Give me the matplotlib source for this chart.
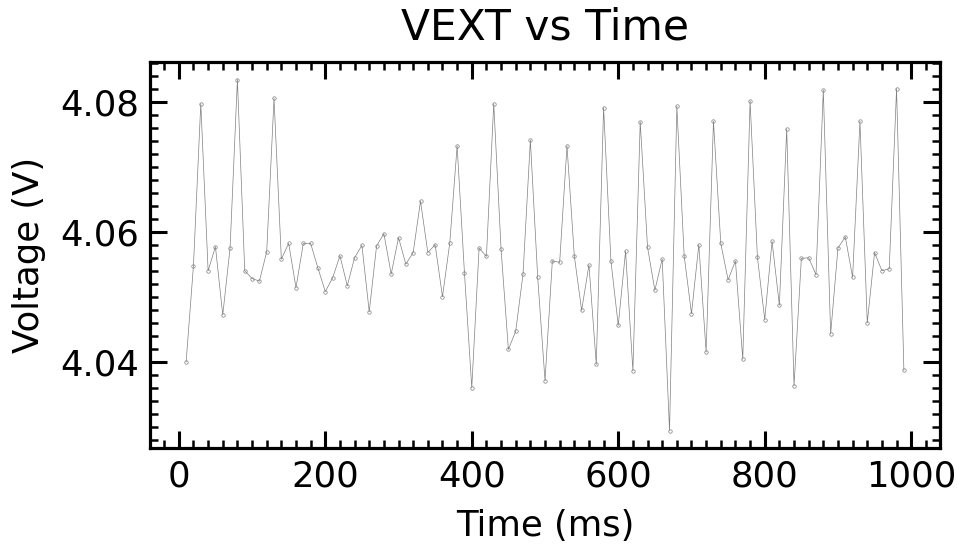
import matplotlib
matplotlib.use("Agg")
import matplotlib.pyplot as plt
from matplotlib.ticker import MultipleLocator

time_ms = list(range(10, 1000, 10))
voltage = [
    4.0400, 4.0548, 4.0797, 4.0540, 4.0577, 4.0472, 4.0575, 4.0834, 4.0540, 4.0528,
    4.0524, 4.0569, 4.0805, 4.0558, 4.0582, 4.0514, 4.0582, 4.0582, 4.0544, 4.0508,
    4.0529, 4.0563, 4.0517, 4.0560, 4.0579, 4.0477, 4.0578, 4.0597, 4.0535, 4.0591,
    4.0550, 4.0568, 4.0647, 4.0568, 4.0580, 4.0500, 4.0583, 4.0732, 4.0537, 4.0360,
    4.0575, 4.0562, 4.0797, 4.0573, 4.0419, 4.0447, 4.0535, 4.0741, 4.0530, 4.0371,
    4.0555, 4.0553, 4.0732, 4.0563, 4.0479, 4.0549, 4.0396, 4.0791, 4.0555, 4.0456,
    4.0570, 4.0386, 4.0769, 4.0576, 4.0510, 4.0558, 4.0294, 4.0793, 4.0563, 4.0474,
    4.0580, 4.0415, 4.0770, 4.0582, 4.0526, 4.0555, 4.0404, 4.0801, 4.0561, 4.0465,
    4.0585, 4.0487, 4.0758, 4.0363, 4.0559, 4.0560, 4.0534, 4.0818, 4.0443, 4.0575,
    4.0592, 4.0530, 4.0770, 4.0460, 4.0568, 4.0540, 4.0543, 4.0820, 4.0387,
]

title = "VEXT vs Time"
xlabel = "Time (ms)"
ylabel = "Voltage (V)"

plt.rcParams['font.family'] = ['DejaVu Sans']
fig = plt.figure(figsize=(9.57, 5.44), dpi=100)
ax = fig.add_axes([0.157, 0.176, 0.825, 0.710])

ax.plot(time_ms, voltage, color='gray', linewidth=0.5, marker='o', markersize=2.5,
        markerfacecolor='none', markeredgecolor='gray', markeredgewidth=0.5)

ax.set_title(title, fontsize=30.5, pad=16)
ax.set_xlabel(xlabel, fontsize=25.5, labelpad=11)
ax.set_ylabel(ylabel, fontsize=25.5, labelpad=10)

ax.xaxis.set_major_locator(MultipleLocator(200))
ax.xaxis.set_minor_locator(MultipleLocator(20))
ax.yaxis.set_major_locator(MultipleLocator(0.02))
ax.yaxis.set_minor_locator(MultipleLocator(0.002))

ax.tick_params(which='both', direction='in', top=True, right=True, labelsize=25.5)
ax.tick_params(which='major', length=12, width=2.2, pad=8)
ax.tick_params(which='minor', length=6, width=1.8)
for s in ax.spines.values():
    s.set_linewidth(2.3)

fig.savefig("out.png", dpi=100)
